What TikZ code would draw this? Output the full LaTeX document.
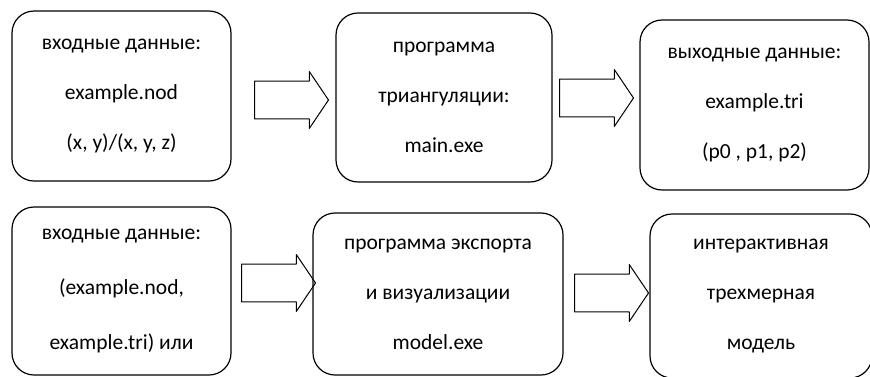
\documentclass[tikz,border=0pt]{standalone}
\usepackage{fontspec}
\setmainfont{Carlito}
\usetikzlibrary{shapes.arrows}
\begin{document}
\begin{tikzpicture}[x=1pt,y=-1pt,line join=round,
	box/.style={draw,line width=1.2pt,rounded corners=22pt,align=center,font=\fontsize{21.5}{50}\selectfont},
	blockarrow/.style={draw,line width=1pt,single arrow,single arrow tip angle=112,minimum width=57pt,minimum height=74pt,inner xsep=0pt,inner ysep=13.5pt,anchor=tail}]
	\clip (0,0) rectangle (870,376);
	% first row: triangulation
	\node[box,minimum width=219pt,minimum height=170pt] (in1) at (121.5,96) {входные данные:\\example.nod\\(x, y)/(x, y, z)};
	\node[box,minimum width=216pt,minimum height=169pt] (tri) at (444,97.5) {программа\\триангуляции:\\main.exe};
	\node[box,minimum width=229pt,minimum height=170pt] (out1) at (754.5,105) {выходные данные:\\example.tri\\(p0 , p1, p2)};
	% second row: export
	\node[box,minimum width=219pt,minimum height=168pt] (in2) at (121.5,291) {входные данные:\\[5pt](example.nod,\\[5pt]example.tri) или};
	\node[box,minimum width=250pt,minimum height=162pt] (exp) at (438,294) {программа экспорта\\и визуализации\\model.exe};
	\node[box,minimum width=222pt,minimum height=164pt] (mdl) at (761,296) {интерактивная\\трехмерная\\модель};
	% block arrows
	\node[blockarrow] (a1) at (254,100) {};
	\node[blockarrow] (a2) at (559,98) {};
	\node[blockarrow] (a3) at (241,283) {};
	\node[blockarrow] (a4) at (574,293) {};
\end{tikzpicture}
\end{document}
